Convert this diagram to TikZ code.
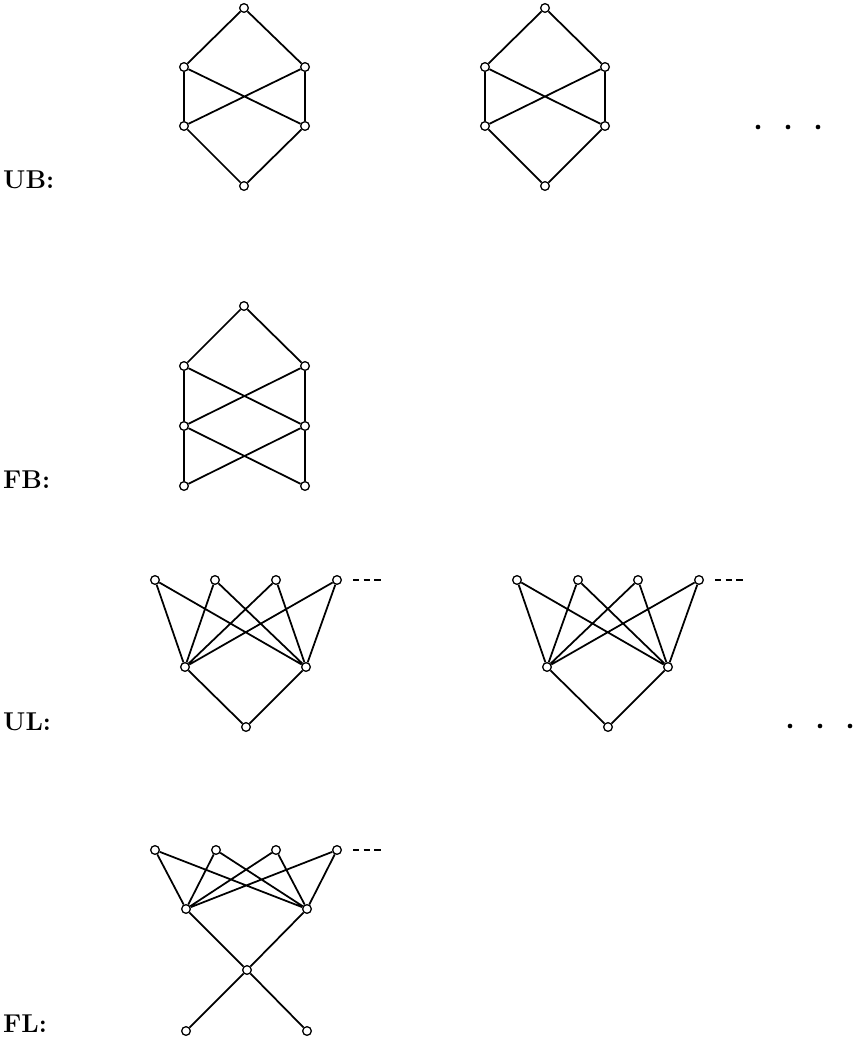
\documentclass[tikz,border=0pt]{standalone}
\usepackage{amsmath}
\usepackage{amssymb}
\usepackage{tikz}

\tikzset{
  vtx/.style={circle, draw, fill=white, line width=1.1pt, inner sep=0pt, minimum size=0.26cm},
  edge/.style={line width=1.5pt},
  lbl/.style={anchor=base west, inner sep=0pt, font=\fontsize{22}{26}\selectfont\bfseries},
  dotmark/.style={circle, fill, inner sep=0pt, minimum size=0.14cm},
  etc/.style={line width=1.5pt, dash pattern=on 5.5pt off 3.5pt}
}

\begin{document}
\begin{tikzpicture}[x=0.03cm, y=-0.03cm]
\useasboundingbox (0,0) rectangle (853,1040);

% UB, first
\node[vtx] (a0) at (244,   8) {};
\node[vtx] (a1) at (184,  67) {};
\node[vtx] (a2) at (305,  67) {};
\node[vtx] (a3) at (184, 126) {};
\node[vtx] (a4) at (305, 126) {};
\node[vtx] (a5) at (244, 186) {};
% UB, second
\node[vtx] (b0) at (545,   8) {};
\node[vtx] (b1) at (485,  67) {};
\node[vtx] (b2) at (605,  67) {};
\node[vtx] (b3) at (485, 126) {};
\node[vtx] (b4) at (605, 126) {};
\node[vtx] (b5) at (545, 186) {};
% FB
\node[vtx] (c0) at (244, 306) {};
\node[vtx] (c1) at (184, 366) {};
\node[vtx] (c2) at (305, 366) {};
\node[vtx] (c3) at (184, 426) {};
\node[vtx] (c4) at (305, 426) {};
\node[vtx] (c5) at (184, 486) {};
\node[vtx] (c6) at (305, 486) {};
% UL, first
\node[vtx] (d1) at (155, 580) {};
\node[vtx] (d2) at (215, 580) {};
\node[vtx] (d3) at (276, 580) {};
\node[vtx] (d4) at (337, 580) {};
\node[vtx] (d5) at (185, 667) {};
\node[vtx] (d6) at (306, 667) {};
\node[vtx] (d7) at (246, 727) {};
\coordinate (dx) at (353, 580);
\coordinate (dy) at (383, 580);
% UL, second
\node[vtx] (e1) at (517, 580) {};
\node[vtx] (e2) at (578, 580) {};
\node[vtx] (e3) at (638, 580) {};
\node[vtx] (e4) at (699, 580) {};
\node[vtx] (e5) at (547, 667) {};
\node[vtx] (e6) at (668, 667) {};
\node[vtx] (e7) at (608, 727) {};
\coordinate (ex) at (715, 580);
\coordinate (ey) at (745, 580);
% FL
\node[vtx] (f1) at (155, 850) {};
\node[vtx] (f2) at (216, 850) {};
\node[vtx] (f3) at (276, 850) {};
\node[vtx] (f4) at (337, 850) {};
\node[vtx] (f5) at (186, 909) {};
\node[vtx] (f6) at (307, 909) {};
\node[vtx] (f7) at (247, 970) {};
\node[vtx] (f8) at (186, 1031) {};
\node[vtx] (f9) at (307, 1031) {};
\coordinate (fx) at (353, 850);
\coordinate (fy) at (383, 850);

% labels
\node[lbl] (ub) at (3, 188)  {UB:};
\node[lbl] (fb) at (3, 488)  {FB:};
\node[lbl] (ul) at (3, 730)  {UL:};
\node[lbl] (fl) at (3, 1032) {FL:};

% dots
\node[dotmark] (p1) at (758, 127) {};
\node[dotmark] (p2) at (788, 127) {};
\node[dotmark] (p3) at (818, 127) {};
\node[dotmark] (q1) at (790, 726) {};
\node[dotmark] (q2) at (820, 726) {};
\node[dotmark] (q3) at (850, 726) {};

% edges
\draw[edge] (a0) -- (a1) (a0) -- (a2) (a1) -- (a3) (a1) -- (a4)
            (a2) -- (a3) (a2) -- (a4) (a3) -- (a5) (a4) -- (a5);
\draw[edge] (b0) -- (b1) (b0) -- (b2) (b1) -- (b3) (b1) -- (b4)
            (b2) -- (b3) (b2) -- (b4) (b3) -- (b5) (b4) -- (b5);
\draw[edge] (c0) -- (c1) (c0) -- (c2) (c1) -- (c3) (c1) -- (c4)
            (c2) -- (c3) (c2) -- (c4) (c3) -- (c5) (c3) -- (c6)
            (c4) -- (c5) (c4) -- (c6);
\draw[edge] (d1) -- (d5) (d1) -- (d6) (d2) -- (d5) (d2) -- (d6)
            (d3) -- (d5) (d3) -- (d6) (d4) -- (d5) (d4) -- (d6)
            (d5) -- (d7) (d6) -- (d7);
\draw[edge] (e1) -- (e5) (e1) -- (e6) (e2) -- (e5) (e2) -- (e6)
            (e3) -- (e5) (e3) -- (e6) (e4) -- (e5) (e4) -- (e6)
            (e5) -- (e7) (e6) -- (e7);
\draw[edge] (f1) -- (f5) (f1) -- (f6) (f2) -- (f5) (f2) -- (f6)
            (f3) -- (f5) (f3) -- (f6) (f4) -- (f5) (f4) -- (f6)
            (f5) -- (f7) (f6) -- (f7) (f7) -- (f8) (f7) -- (f9);
\draw[etc] (dx) -- (dy);
\draw[etc] (ex) -- (ey);
\draw[etc] (fx) -- (fy);

\end{tikzpicture}
\end{document}
